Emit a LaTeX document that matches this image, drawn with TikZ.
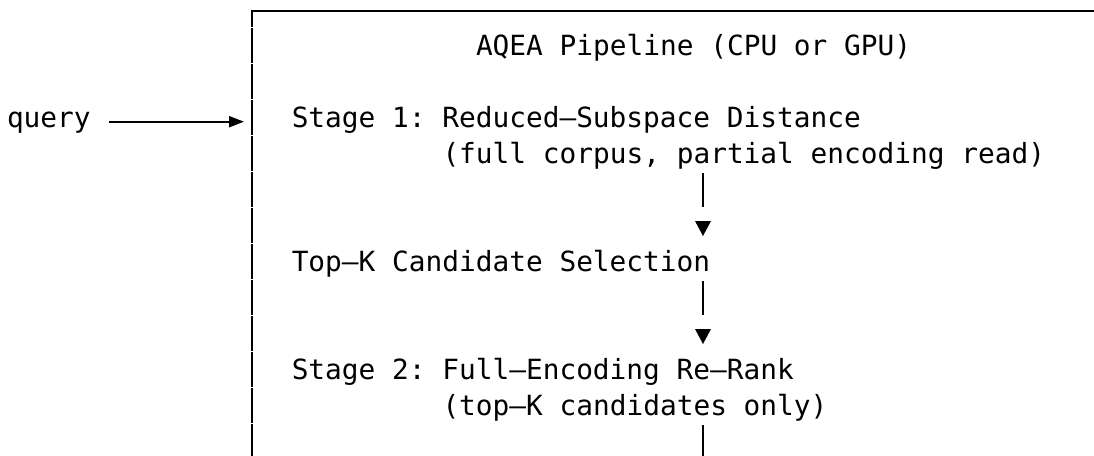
\documentclass[tikz,border=0pt]{standalone}
\usepackage{fontspec}
\newfontfamily\pipemono{DejaVu Sans Mono}
\usetikzlibrary{arrows.meta}

\begin{document}
\begin{tikzpicture}[x=1pt,y=-1pt,
  txt/.style={font=\pipemono\fontsize{27.8pt}{36pt}\selectfont\frenchspacing, anchor=base west, inner sep=0pt, outer sep=0pt},
  frame/.style={line width=2.6pt, line cap=butt},
  bar/.style={line width=2.2pt},
  tip/.style={fill=black, draw=none},
  feed/.style={line width=2.2pt, -{Triangle[length=15pt,width=11pt]}}]

\useasboundingbox (0,0) rectangle (1094,455);
\fill[white] (0,0) rectangle (1094,455);

% text lines, placed on a character grid (cell width 16.75, line pitch 36)
\node[txt] (query) at (7,127)      {query};
\node[txt] (title) at (476,55)     {AQEA Pipeline (CPU or GPU)};
\node[txt] (s1a)   at (291.75,127) {Stage 1: Reduced–Subspace Distance};
\node[txt] (s1b)   at (442.5,163)  {(full corpus, partial encoding read)};
\node[txt] (topk)  at (291.75,271) {Top–K Candidate Selection};
\node[txt] (s2a)   at (291.75,379) {Stage 2: Full–Encoding Re–Rank};
\node[txt] (s2b)   at (442.5,415)  {(top–K candidates only)};

% frame: top edge and segmented left edge
\draw[frame] (1100,11) -- (252,11) -- (252,27);
\foreach \r in {1,...,12}
  \draw[frame] (252,{27+36*(\r-1)+0.8}) -- (252,{27+36*\r});

% query feed into the pipeline
\coordinate (qa) at (109,121.7);
\coordinate (qb) at (244,121.7);
\draw[feed] (qa) -- (qb);

% flow between stages
\coordinate (b1t) at (703,173); \coordinate (b1b) at (703,207);
\coordinate (b2t) at (703,281); \coordinate (b2b) at (703,315);
\coordinate (b3t) at (703,425); \coordinate (b3b) at (703,459);
\draw[bar] (b1t) -- (b1b);
\draw[bar] (b2t) -- (b2b);
\draw[bar] (b3t) -- (b3b);

\coordinate (t1) at (703,236);
\coordinate (t2) at (703,344);
\fill[tip] (t1) -- ++(-8,-15) -- ++(16,0) -- cycle;
\fill[tip] (t2) -- ++(-8,-15) -- ++(16,0) -- cycle;
\end{tikzpicture}
\end{document}
